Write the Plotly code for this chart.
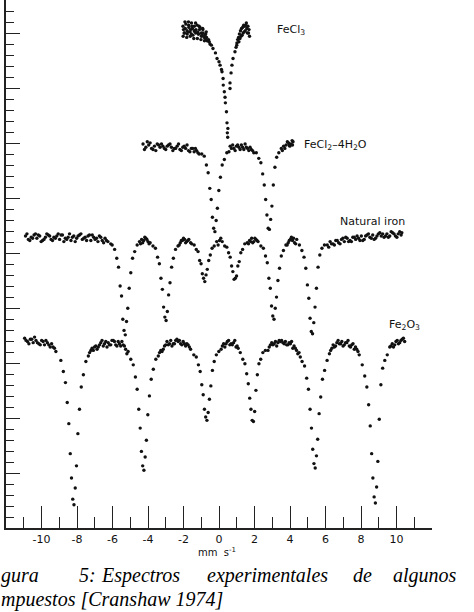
import plotly.graph_objects as go

# ---------------- data (velocity in mm/s, transmission in arbitrary divisions) ----------------
fecl3_v = [-2.03,-1.95,-1.87,-1.79,-1.71,-1.63,-1.55,-1.47,-1.39,-1.31,-1.23,-1.15,-1.07,-0.99,-0.91,-0.83,-0.75,-0.67,-0.59,-0.51,
           -0.43,-0.34,-0.20,-0.11,0.00,0.06,0.14,0.17,0.23,0.24,0.30,0.34,0.36,0.42,0.45,0.50,0.47,0.49,
           0.62,0.62,0.68,0.73,0.79,0.90,0.96,1.01,
           1.05,1.10,1.15,1.21,1.27,1.33,1.39,1.45,1.51,1.57,1.63,1.69,
           1.00,1.12,1.24,1.36,1.48,1.60,1.72,
           -2.00,-1.90,-1.80,-1.70,-1.60,-1.50,-1.40,-1.30,-1.20,-1.10,-1.00,-0.90,-0.80,-0.70,-0.62,-0.55,
           -2.02,-1.92,-1.82,-1.72,-1.62,-1.52,-1.42,-1.32,-1.22,-1.12,-1.02,-0.92,-0.82,-0.72,
           1.18,1.30,1.42,1.54,1.66,
           -1.96,-1.76,-1.56,-1.36,-1.16,-0.96,-0.76]
fecl3_y = [45.2,44.6,45.4,44.5,45.3,44.7,45.5,44.4,45.2,44.6,45.3,44.5,45.1,44.3,44.9,44.2,44.5,43.9,44.0,43.6,
           43.5,43.2,42.8,42.3,42.0,41.7,41.3,41.1,40.5,39.9,39.3,38.8,38.3,37.5,36.5,36.0,35.6,35.2,
           39.6,40.1,41.0,41.7,42.3,42.9,43.3,43.7,
           44.0,44.2,44.5,44.8,45.0,45.1,45.3,45.2,45.3,45.0,45.2,44.9,
           43.5,43.8,44.3,44.6,44.8,44.6,44.3,
           44.9,45.0,44.8,45.1,44.9,45.0,44.8,44.9,44.7,44.9,44.6,44.6,44.4,44.2,43.9,43.8,
           44.3,45.6,44.2,45.6,44.3,45.2,44.1,45.5,44.1,45.2,44.0,45.0,43.9,44.7,
           44.1,44.4,44.7,45.5,44.6,
           44.6,44.7,44.5,44.7,44.5,44.4,44.1]

fecl2_v = [-4.28,-4.12,-3.96,-3.80,-3.64,-3.48,-3.32,-3.16,-3.00,-2.84,-2.68,-2.52,-2.36,-2.20,-2.04,-1.88,-1.72,-1.56,-1.40,-1.26,-1.12,
           -0.97,-0.83,-0.71,-0.61,-0.52,-0.44,-0.37,-0.30,-0.23,-0.16,-0.09,-0.01,0.08,0.18,0.30,0.44,
           0.56,0.70,0.84,0.98,1.12,1.26,1.40,1.54,1.68,1.82,1.96,
           2.10,2.24,2.36,2.46,2.55,2.63,2.70,2.77,2.84,2.91,2.98,3.06,3.15,3.25,3.37,3.51,
           3.64,3.78,3.92,4.06,4.17,
           -4.20,-3.88,-3.56,-3.24,-2.92,-2.60,-2.28,-1.96,-1.64,-1.33,
           0.63,0.91,1.19,1.47,1.75, 3.71,3.85,3.99,4.12,
           -4.04,-3.72,-3.40,-3.08,-2.76,-2.44,-2.12,-1.80,-1.48,-1.19,
           0.77,1.05,1.33,1.61,1.89, 3.57,3.95,4.14]
fecl2_y = [34.6,34.3,34.5,34.2,34.4,34.6,34.3,34.4,34.1,34.5,34.3,34.2,34.4,34.1,34.3,34.2,34.0,34.2,33.9,34.0,33.7,
           33.7,33.5,32.7,32.0,30.6,29.6,28.0,27.0,26.7,27.7,28.8,30.4,31.6,32.7,33.2,33.8,
           33.9,34.2,34.2,34.4,34.3,34.5,34.1,34.3,34.0,34.1,33.8,
           33.8,33.3,32.9,31.9,30.9,29.6,28.2,27.0,26.9,27.8,29.0,30.9,32.5,33.4,33.8,34.2,
           34.4,34.5,34.7,34.6,34.8,
           34.1,34.7,34.0,34.6,34.4,34.0,34.6,34.4,33.9,34.2,
           34.4,34.0,34.1,34.6,34.3, 34.2,34.8,34.4,34.9,
           34.8,34.1,34.5,34.2,34.6,34.2,34.0,34.5,34.2,33.8,
           34.5,34.5,34.3,34.2,34.0, 34.0,34.5,34.5]

iron_v = [-10.90,-10.74,-10.58,-10.42,-10.26,-10.10,-9.94,-9.78,-9.62,-9.46,-9.30,-9.14,-8.98,-8.82,-8.66,-8.50,-8.34,-8.18,-8.02,-7.86,-7.70,-7.54,-7.38,-7.22,-7.06,-6.90,-6.74,-6.58,-6.42,-6.26,-6.10,
          -6.02,-5.88,-5.76,-5.66,-5.57,-5.49,-5.42,-5.35,-5.28,-5.21,-5.14,-5.06,-4.97,-4.87,-4.75,-4.61,
          -4.48,-4.36,-4.24,-4.12,-4.00,-3.88,
          -3.72,-3.58,-3.46,-3.36,-3.27,-3.19,-3.12,-3.05,-2.98,-2.91,-2.84,-2.76,-2.67,-2.57,-2.45,-2.31,
          -2.18,-2.06,-1.94,-1.82,-1.70,-1.60,
          -1.54,-1.40,-1.28,-1.18,-1.09,-1.01,-0.94,-0.87,-0.80,-0.73,-0.66,-0.58,-0.49,-0.39,-0.27,-0.13,
          0.03,
          0.18,0.32,0.44,0.54,0.63,0.71,0.78,0.85,0.92,0.99,1.06,1.14,1.23,1.33,1.45,1.59,
          1.72,1.84,1.96,2.08,2.20,
          2.36,2.50,2.62,2.72,2.81,2.89,2.96,3.03,3.10,3.17,3.24,3.32,3.41,3.51,3.63,3.77,
          3.90,4.02,4.14,4.26,4.38,
          4.53,4.67,4.79,4.89,4.98,5.06,5.13,5.20,5.27,5.34,5.41,5.49,5.58,5.68,5.80,5.94,
          6.10,6.26,6.42,6.58,6.74,6.90,7.06,7.22,7.38,7.54,7.70,7.86,8.02,8.18,8.34,8.50,8.66,8.82,8.98,9.14,9.30,9.46,9.62,9.78,9.94,10.10,10.26,
          -10.82,-10.50,-10.18,-9.86,-9.54,-9.22,-8.90,-8.58,-8.26,-7.94,-7.62,-7.30,-6.98,-6.66,-6.34,
          6.34,6.66,6.98,7.30,7.62,7.94,8.26,8.58,8.90,9.22,9.54,9.86,10.18,
          -4.30,-4.06,-2.12,-1.88,1.78,2.02,3.96,4.20,
          -10.66,-10.34,-10.02,-9.70,-9.38,-9.06,-8.74,-8.42,-8.10,-7.78,-7.46,-7.14,-6.82,-6.50,
          6.18,6.50,6.82,7.14,7.46,7.78,8.10,8.42,8.74,9.06,9.38,9.70,10.02,10.30,
          -4.42,-4.18,-3.94,-2.24,-2.00,-1.76,-0.05,0.10,1.66,1.90,2.14,3.84,4.08,4.32]
iron_y = [26.3,26.0,26.2,26.4,26.1,26.3,25.9,26.2,26.4,26.0,26.2,26.3,26.0,26.4,26.1,26.2,25.9,26.3,26.1,26.4,26.0,26.2,26.3,25.9,26.2,26.1,26.3,25.9,26.1,25.8,25.6,
          25.5,25.1,24.3,23.5,21.8,20.9,18.8,17.8,17.4,18.6,19.8,21.6,23.0,24.3,24.9,25.5,
          25.8,26.0,25.9,26.1,25.8,25.7,
          25.4,25.2,24.4,23.8,22.5,21.5,19.9,19.0,18.7,19.5,21.0,22.1,23.5,24.3,25.1,25.4,
          25.7,25.9,26.0,25.8,26.0,25.7,
          25.6,25.5,25.1,24.9,24.1,23.8,22.9,22.5,22.2,22.8,23.3,24.1,24.6,25.2,25.4,25.8,
          25.9,
          25.8,25.4,25.3,24.8,24.4,23.6,23.1,22.4,22.5,22.7,23.6,24.0,24.8,25.1,25.6,25.7,
          25.9,26.1,25.8,26.0,25.8,
          25.4,25.2,24.5,23.9,22.5,21.6,20.0,19.1,18.8,19.8,20.8,22.3,23.4,24.5,25.0,25.5,
          25.7,26.0,25.9,25.7,26.0,
          25.5,25.0,24.4,23.4,21.9,20.7,18.9,17.7,17.5,18.5,19.9,21.6,23.5,24.6,25.2,25.5,
          25.5,25.8,25.6,25.9,25.7,26.0,25.8,26.1,25.9,26.2,26.0,26.1,26.3,26.0,26.4,26.2,26.4,26.1,26.5,26.3,26.2,26.5,26.3,26.6,26.3,26.5,26.4,
          26.5,26.1,26.4,26.0,26.3,26.1,26.4,26.0,26.2,26.3,26.1,26.4,26.0,26.2,25.9,
          25.6,25.9,26.1,25.8,26.2,25.9,26.3,26.1,26.3,26.5,26.2,26.5,26.7,
          25.7,26.0,25.9,25.7,25.8,26.1,25.9,26.1,
          25.9,26.5,25.8,26.5,25.9,26.5,25.8,26.5,25.8,26.5,25.9,26.4,25.8,25.7,
          25.3,25.5,25.6,26.2,25.8,26.3,25.9,26.5,26.0,26.6,26.3,26.7,26.2,26.6,
          25.6,26.2,25.6,25.5,26.1,25.9,25.5,26.1,25.6,25.7,25.9,25.5,26.2,25.6]

fe2o3_v = [-10.95,-10.79,-10.63,-10.47,-10.31,-10.15,-9.99,-9.83,-9.67,-9.51,-9.35,-9.19,
           -8.91,-8.77,-8.65,-8.55,-8.46,-8.38,-8.31,-8.24,-8.17,-8.10,-8.03,-7.95,-7.86,-7.76,-7.64,-7.50,
           -7.36,-7.22,-7.08,-6.94,-6.80,-6.66,-6.52,-6.38,-6.24,-6.10,-5.96,-5.82,-5.68,-5.54,-5.40,-5.26,-5.12,
           -4.97,-4.83,-4.71,-4.61,-4.52,-4.44,-4.37,-4.30,-4.23,-4.16,-4.09,-4.01,-3.92,-3.82,-3.70,-3.56,
           -3.42,-3.28,-3.14,-3.00,-2.86,-2.72,-2.58,-2.44,-2.30,-2.16,-2.02,-1.88,-1.74,-1.60,
           -1.42,-1.28,-1.16,-1.06,-0.97,-0.89,-0.82,-0.75,-0.68,-0.61,-0.54,-0.46,-0.37,-0.27,-0.15,-0.01,
           0.12,0.26,0.40,0.54,0.68,0.82,0.96,1.08,
           1.20,1.34,1.46,1.56,1.65,1.73,1.80,1.87,1.94,2.01,2.08,2.16,2.25,2.35,2.47,2.61,
           2.76,2.90,3.04,3.18,3.32,3.46,3.60,3.74,3.88,4.02,4.16,4.30,4.44,4.58,
           4.68,4.82,4.94,5.04,5.13,5.21,5.28,5.35,5.42,5.49,5.56,5.64,5.73,5.83,5.95,6.09,
           6.22,6.36,6.50,6.64,6.78,6.92,7.06,7.20,7.34,7.48,7.62,7.76,7.90,
           8.07,8.21,8.33,8.43,8.52,8.60,8.67,8.74,8.81,8.88,8.95,9.03,9.12,9.22,9.34,9.48,
           9.62,9.76,9.90,10.04,10.18,10.32,10.46,
           -7.29,-7.01,-6.73,-6.45,-6.17,-5.89,-5.61,-5.33,
           -3.35,-3.07,-2.79,-2.51,-2.23,-1.95,-1.67,
           0.19,0.47,0.75,1.02,
           2.83,3.11,3.39,3.67,3.95,4.23,4.51,
           6.29,6.57,6.85,7.13,7.41,7.69,
           -10.87,-10.55,-10.23,-9.91,-9.59,-9.27,
           9.69,9.97,10.25,
           -10.71,-10.39,-10.07,-9.75,-9.43,
           -7.15,-6.87,-6.59,-6.31,-6.03,-5.75,-5.47,-5.19,
           -3.21,-2.93,-2.65,-2.37,-2.09,-1.81,
           0.33,0.61,0.89,
           2.97,3.25,3.53,3.81,4.09,4.37,
           6.43,6.71,6.99,7.27,7.55,7.83,
           9.83,10.11,10.39]
fe2o3_y = [17.1,16.8,17.0,16.7,16.9,16.6,16.9,16.5,16.7,16.3,16.3,15.9,
           15.1,14.1,13.1,11.3,9.4,6.7,4.5,2.6,2.1,3.6,5.6,8.5,10.7,12.7,13.8,15.0,
           15.5,16.0,16.0,16.4,16.3,16.7,16.4,16.8,16.7,16.5,16.9,16.5,16.8,16.4,16.5,16.1,15.9,
           15.2,14.7,13.6,12.5,10.7,9.0,6.9,5.6,5.2,6.4,7.9,10.2,11.9,13.4,14.3,15.2,
           15.5,16.0,16.1,16.5,16.5,16.9,16.6,16.9,16.8,16.6,16.8,16.4,16.5,16.1,
           15.6,15.4,14.7,14.1,12.9,12.0,10.7,10.0,9.7,10.4,11.6,12.8,14.2,15.0,15.6,15.9,
           16.1,16.6,16.6,16.9,16.6,16.7,16.3,16.2,
           15.8,15.2,14.8,13.9,13.0,11.7,10.7,9.7,9.6,10.5,12.4,13.8,14.8,15.2,15.8,16.0,
           16.0,16.5,16.5,16.8,16.7,16.8,16.7,16.8,16.5,16.6,16.2,16.2,15.7,15.4,
           15.0,14.6,13.5,12.5,10.7,9.0,7.1,5.8,5.4,6.5,8.0,10.3,11.8,13.4,14.2,15.1,
           15.7,16.2,16.3,16.7,16.6,16.8,16.5,16.7,16.4,16.5,16.1,16.1,15.6,
           14.7,13.7,12.7,11.1,9.2,6.7,4.5,2.8,2.25,3.7,6.0,9.8,12.9,14.4,15.1,15.6,
           16.3,16.6,16.5,16.9,16.7,17.0,16.8,
           15.8,16.3,16.5,16.6,16.5,16.8,16.6,16.4,
           15.8,16.4,16.6,16.6,16.9,16.6,16.3,
           16.4,16.8,16.5,16.4,
           16.3,16.6,16.9,16.6,16.7,16.4,15.8,
           16.0,16.4,16.6,16.7,16.3,16.3,
           16.9,17.0,16.7,16.8,16.5,16.2,
           16.4,16.8,16.9,
           16.6,17.2,16.5,16.9,16.6,
           16.2,16.1,16.9,16.3,16.9,16.4,16.8,15.7,
           15.9,16.8,16.4,17.0,16.5,16.6,
           16.3,16.5,16.9,
           16.7,16.4,16.9,16.5,16.8,16.0,
           16.5,16.9,16.4,16.9,16.6,15.9,
           16.3,16.6,17.1]

spectra = [("FeCl3", fecl3_v, fecl3_y), ("FeCl2-4H2O", fecl2_v, fecl2_y),
           ("Natural iron", iron_v, iron_y), ("Fe2O3", fe2o3_v, fe2o3_y)]

x_tickvals = [-12, -10, -8, -6, -4, -2, 0, 2, 4, 6, 8, 10, 12]
x_ticktext = ["", "-10", "-8", "-6", "-4", "-2", "0", "2", "4", "6", "8", "10", ""]

labels = [("FeCl<sub>3</sub>", 3.15, 44.9),
          ("FeCl<sub>2</sub>\u20134H<sub>2</sub>O", 4.68, 34.5),
          ("Natural iron", 6.70, 27.6),
          ("Fe<sub>2</sub>O<sub>3</sub>", 9.46, 18.3)]

caption_line1 = [("gura", 0), ("5:", 78), ("Espectros", 100), ("experimentales", 206), ("de", 352), ("algunos", 392)]
caption_line2 = [("mpuestos [Cranshaw 1974]", 0)]

# ---------------- figure ----------------
for name, v, y in spectra:
    if len(v) != len(y):
        raise ValueError(f"{name}: {len(v)} vs {len(y)}")

fig = go.Figure()
for name, v, y in spectra:
    fig.add_trace(go.Scatter(x=v, y=y, mode="markers", name=name,
                             marker=dict(size=3.4, color="#111111", line=dict(width=0)),
                             hoverinfo="skip", showlegend=False))

W, H = 474, 612
ML, MR, MT, MB = 6, 42, 0, 84
PW, PH = W - ML - MR, H - MT - MB
YTOP = 528 / 11.1
YSTEP = 11 / 11.1

def px_to_paper(px, py):
    return (px - ML) / PW, (PH - py) / PH

ann = []
label_font = dict(family="DejaVu Sans", size=11, color="#111111")
for text, xv, yv in labels:
    ann.append(dict(x=xv, y=yv, xref="x", yref="y", text=text, showarrow=False,
                    xanchor="left", yanchor="middle", font=label_font))

xp, yp = px_to_paper(217, 552)
ann.append(dict(x=xp, y=yp, xref="paper", yref="paper", text="mm  s<sup>-1</sup>", showarrow=False,
                xanchor="center", yanchor="middle", font=dict(family="DejaVu Sans", size=10, color="#111111")))

cap_font = dict(family="Liberation Serif", size=20, color="#000000")
for words, py in ((caption_line1, 575), (caption_line2, 599)):
    for w, px in words:
        xp, yp = px_to_paper(px, py)
        ann.append(dict(x=xp, y=yp, xref="paper", yref="paper", text=f"<i>{w}</i>", showarrow=False,
                        xanchor="left", yanchor="middle", font=cap_font, borderpad=0))

fig.update_layout(
    width=W, height=H, margin=dict(l=ML, r=MR, t=MT, b=MB, pad=0),
    paper_bgcolor="white", plot_bgcolor="white",
    annotations=ann,
    xaxis=dict(range=[-12, 12], showline=True, linecolor="#222222", linewidth=1.5,
               ticks="inside", ticklen=22, tickwidth=1.3, tickcolor="#222222",
               tickmode="array", tickvals=x_tickvals, ticktext=x_ticktext,
               tickfont=dict(family="DejaVu Sans", size=11, color="#111111"),
               showgrid=False, zeroline=False,
               minor=dict(ticks="inside", ticklen=11, tickwidth=1.2, tickcolor="#222222",
                          tick0=-12, dtick=1, showgrid=False)),
    yaxis=dict(range=[0, YTOP], showline=True, linecolor="#222222", linewidth=1.5,
               ticks="inside", ticklen=14, tickwidth=1.3, tickcolor="#222222",
               tickmode="linear", tick0=0, dtick=5 * YSTEP, showticklabels=False,
               showgrid=False, zeroline=False,
               minor=dict(ticks="inside", ticklen=8, tickwidth=1.2, tickcolor="#222222",
                          tick0=0, dtick=YSTEP, showgrid=False)),
)

fig.write_html("out.html")
